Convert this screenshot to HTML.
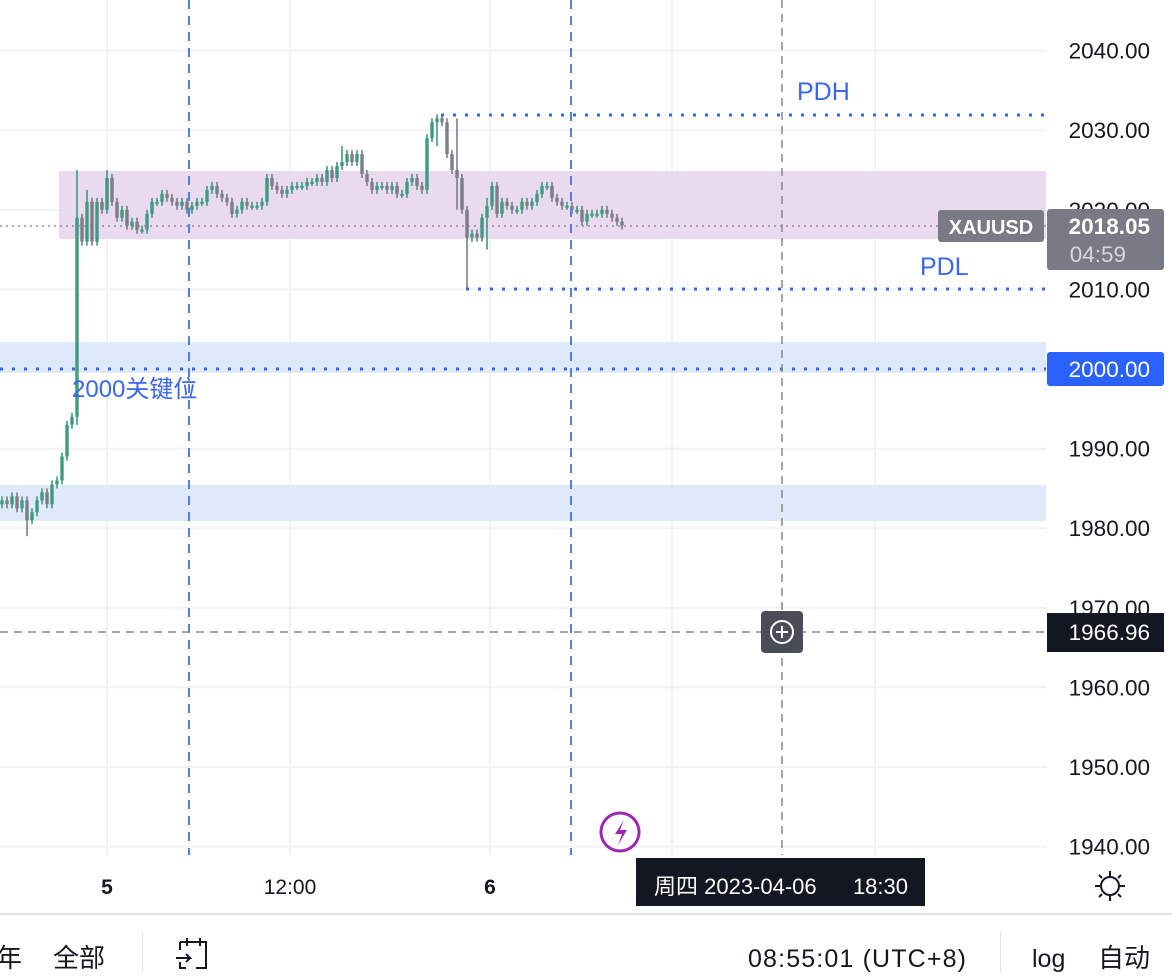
<!DOCTYPE html>
<html><head><meta charset="utf-8"><style>
html,body{margin:0;padding:0;background:#fff;width:1172px;height:979px;overflow:hidden;font-family:"Liberation Sans","Noto Sans CJK SC",sans-serif}
svg text{font-family:"Liberation Sans","Noto Sans CJK SC",sans-serif}
</style></head><body>
<svg id="chart" width="1172" height="979" viewBox="0 0 1172 979" xmlns="http://www.w3.org/2000/svg">
<g id="grid"></g>
<g id="zones"></g>
<g id="candles"></g>
<g id="overlay"></g>
<g id="axis"></g>
</svg>
<script>
const closes=[1983.5,1983,1984,1982.5,1983.5,1981,1982,1983.5,1984.5,1983,1985.5,1986,1989,1993,1994,2019,2016,2021,2016,2021,2020,2024,2021,2019,2020,2018,2018.5,2017.5,2017.5,2019.5,2021,2021,2022,2021.5,2021,2020.5,2021,2020,2020.5,2021,2021,2022.5,2023,2022,2021.5,2021,2019.5,2020,2021,2020.5,2020.5,2020.5,2021,2024,2023,2022.5,2022,2022.5,2023,2023,2023,2023.5,2023.5,2024,2023.5,2025,2024,2025.5,2026,2027,2026,2027,2024.5,2023.5,2022.5,2023,2023,2022.5,2023,2022,2022,2023.5,2024,2023,2022.5,2029,2031,2031.5,2031,2027,2025,2024,2020,2016.5,2017,2016.5,2019,2020.5,2023,2019.5,2021,2020.5,2020,2020,2021,2020.5,2021,2022,2023,2023,2021.5,2021,2020.5,2020.5,2020,2020,2018.5,2019.5,2019.5,2019.5,2020,2019.5,2019,2018.5,2018.05];
const firstOpen=1983;
const spikeIdx=[5,15,17,21,68,87,91,93,97];
const spikeHigh=[1984,2025,2022.5,2025,2028,2032,2031.5,2019,2021.5];
const spikeLow=[1979,1993,2016,2020,2025.5,2028,2020,2010,2015];
const priceTicks=[2040,2030,2020,2010,2000,1990,1980,1970,1960,1950,1940];
const timeTicks=["5","12:00","6"];
const timeTickX=[107,290,490];
const NS="http://www.w3.org/2000/svg";
const y=p=>369-(p-2000)*7.96;
const xi=i=>2+i*5;
function el(tag,attrs,parent,text){const e=document.createElementNS(NS,tag);for(const k in attrs)e.setAttribute(k,attrs[k]);if(text!==undefined)e.textContent=text;parent.appendChild(e);return e;}
const grid=document.getElementById('grid'),zones=document.getElementById('zones'),cg=document.getElementById('candles'),ov=document.getElementById('overlay'),ax=document.getElementById('axis');
priceTicks.forEach(p=>{const l=el('line',{x1:0,x2:1046,y1:y(p),y2:y(p),stroke:'#f0f2f5','stroke-width':2},grid);

});
[107,290,490,672,875].forEach(x=>{const l=el('line',{x1:x,x2:x,y1:0,y2:855,stroke:'#f0f2f5','stroke-width':2},grid);

});
let z=el('rect',{x:59,y:171,width:987,height:68,fill:'#e9daef'},zones);

z=el('rect',{x:0,y:342,width:1046,height:31,fill:'#dfe9fa'},zones);

z=el('rect',{x:0,y:485,width:1046,height:36,fill:'#dfe9fa'},zones);

let prev=firstOpen;
closes.forEach((c,i)=>{const o=prev;prev=c;let h=Math.max(o,c)+0.5,l=Math.min(o,c)-0.5;const k=spikeIdx.indexOf(i);if(k>=0){h=Math.max(h,spikeHigh[k]);l=Math.min(l,spikeLow[k]);}
const col=c>=o?'#3f9a80':'#7b7d87';const x=xi(i);
const g=el('g',{},cg);


el('line',{x1:x,x2:x,y1:y(h),y2:y(l),stroke:col,'stroke-width':1.6},g);
const t=Math.min(y(o),y(c)),b=Math.max(Math.abs(y(o)-y(c)),2);
el('rect',{x:x-1.7,y:t,width:3.4,height:b,fill:col},g);});
function L(a,name){const e=el('line',a,ov);return e;}
L({x1:0,x2:1046,y1:226,y2:226,stroke:'#7b7d87','stroke-width':1.3,'stroke-dasharray':'2 4'},'last-price-line');
L({x1:0,x2:1046,y1:369,y2:369,stroke:'#3366ee','stroke-width':3,'stroke-dasharray':'3 9'},'level-2000-line');
L({x1:441,x2:1046,y1:115,y2:115,stroke:'#3366ee','stroke-width':3,'stroke-dasharray':'3 9'},'pdh-line');
L({x1:466,x2:1046,y1:289,y2:289,stroke:'#3366ee','stroke-width':3,'stroke-dasharray':'3 9'},'pdl-line');
L({x1:189,x2:189,y1:0,y2:855,stroke:'#5080e0','stroke-width':2,'stroke-dasharray':'9 7'},'session-line-1');
L({x1:571,x2:571,y1:0,y2:855,stroke:'#5080e0','stroke-width':2,'stroke-dasharray':'9 7'},'session-line-2');
L({x1:782,x2:782,y1:0,y2:855,stroke:'#888','stroke-width':1.5,'stroke-dasharray':'8 6'},'crosshair-vertical');
L({x1:0,x2:1046,y1:632,y2:632,stroke:'#888','stroke-width':1.5,'stroke-dasharray':'8 6'},'crosshair-horizontal');
function T(x,yy,s,attrs,name,inter){const e=el('text',Object.assign({x:x,y:yy},attrs),ov,s);return e;}
T(797,100,'PDH',{fill:'#3a66ee','font-size':25},'pdh-label');
T(920,275,'PDL',{fill:'#3a66ee','font-size':25},'pdl-label');
T(72,397,'2000关键位',{fill:'#3a66ee','font-size':24},'key-level-label');
let b=el('rect',{x:761,y:611,width:42,height:42,rx:4,fill:'#4a4d57'},ov);
el('circle',{cx:782,cy:632,r:11,fill:'none',stroke:'#fff','stroke-width':2},ov);
el('path',{d:'M776 632h12M782 626v12',stroke:'#fff','stroke-width':2},ov);
let lc=el('circle',{cx:620,cy:832,r:19,fill:'#fff',stroke:'#9c27b0','stroke-width':3},ov);
el('path',{d:'M624 820l-9 14h7l-4 11 9-15h-7z',fill:'#9c27b0'},ov);
priceTicks.forEach(p=>{const t=el('text',{x:1150,y:y(p)+8,'text-anchor':'end','font-size':22.5,fill:'#131722'},ax,p.toFixed(2));
});
function R(a,name,parent){const e=el('rect',a,parent||ax);return e;}
R({x:938,y:210,width:106,height:32,rx:3,fill:'#787b86'},'symbol-label',ov);
T(991,234,'XAUUSD',{fill:'#fff','font-size':20,'text-anchor':'middle','font-weight':'bold'},'symbol-text');
R({x:1047,y:209,width:117,height:61,rx:3,fill:'#787b86'},'last-price-label');
let t1=el('text',{x:1150,y:234,'text-anchor':'end','font-size':22.5,fill:'#fff','font-weight':'bold'},ax,'2018.05');
let t2=el('text',{x:1126,y:262,'text-anchor':'end','font-size':22.5,fill:'#d6d7db'},ax,'04:59');
R({x:1047,y:352,width:117,height:34,rx:3,fill:'#2962ff'},'level-2000-price-label');
let t3=el('text',{x:1150,y:377,'text-anchor':'end','font-size':22.5,fill:'#fff'},ax,'2000.00');
R({x:1047,y:613,width:117,height:39,fill:'#131722'},'crosshair-price-label');
let t4=el('text',{x:1150,y:640,'text-anchor':'end','font-size':22.5,fill:'#fff'},ax,'1966.96');
timeTicks.forEach((s,i)=>{const t=el('text',{x:timeTickX[i],y:894,'text-anchor':'middle','font-size':21,fill:'#131722','font-weight':s.length<3?'bold':'normal'},ax,s);
});
R({x:636,y:858,width:289,height:48,fill:'#131722'},'crosshair-time-label');
let t5=el('text',{x:654,y:894,'font-size':22,fill:'#fff'},ax,'周四 2023-04-06');
let t6=el('text',{x:908,y:894,'font-size':22,fill:'#fff','text-anchor':'end'},ax,'18:30');
let gear=el('g',{},ax);
el('circle',{cx:1110,cy:886,r:9,fill:'none',stroke:'#131722','stroke-width':2},gear);
el('path',{d:'M1110 871v5M1110 896v5M1095 886h5M1120 886h5M1099 875l3 3M1118 894l3 3M1121 875l-3 3M1102 894l-3 3',stroke:'#131722','stroke-width':2},gear);
R({x:0,y:913,width:1172,height:2,fill:'#e0e3eb'},'bottom-bar-border');
R({x:142,y:932,width:1,height:40,fill:'#e0e3eb'},'separator');
R({x:1000,y:932,width:1,height:40,fill:'#e0e3eb'},'separator');
T(-4,967,'年',{'font-size':26,fill:'#131722'},'range-year',true);
T(53,967,'全部',{'font-size':26,fill:'#131722'},'range-all',true);
let gt=el('g',{},ov);
el('path',{d:'M180 942h26v26h-10M180 942v8M187 938v8M200 938v8M176 958h14l-4-4M190 958l-4 4M180 962v6h6',fill:'none',stroke:'#131722','stroke-width':2},gt);
T(748,967,'08:55:01 (UTC+8)',{'font-size':25,fill:'#131722',textLength:218},'clock',false);
T(1032,967,'log',{'font-size':25,fill:'#131722'},'log-toggle',true);
T(1098,967,'自动',{'font-size':26,fill:'#131722'},'auto-toggle',true);
</script>
</body></html>
